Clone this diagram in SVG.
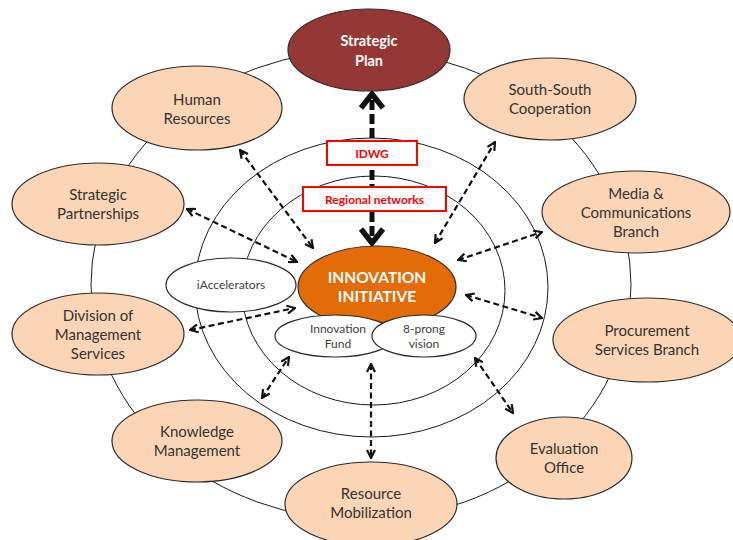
<svg xmlns="http://www.w3.org/2000/svg" width="733" height="540" viewBox="0 0 733 540">
<style>
.ring{fill:none;stroke:#1a1a1a;stroke-width:1}
.node{fill:#FBD5B5;stroke:#2b2b2b;stroke-width:1.2}
.wnode{fill:#fff;stroke:#2b2b2b;stroke-width:1.2}
.t{font-family:Lato,"Liberation Sans",sans-serif;font-size:15px;fill:#333;text-anchor:middle}
.ts{font-family:Lato,"Liberation Sans",sans-serif;font-size:12px;fill:#404040;text-anchor:middle}
.tw{font-family:Lato,"Liberation Sans",sans-serif;font-size:14.5px;font-weight:bold;fill:#fff;text-anchor:middle}
.tr{font-family:Lato,"Liberation Sans",sans-serif;font-size:12px;font-weight:bold;fill:#FF0000;text-anchor:middle}
.box{fill:#fff;stroke:#FF0000;stroke-width:2}
.da{fill:none;stroke:#111;stroke-width:2.2;stroke-dasharray:6,3.5;marker-start:url(#ah);marker-end:url(#ah)}
</style>
<defs>
<marker id="ah" viewBox="0 0 10 10" refX="9" refY="5" markerWidth="10" markerHeight="10" markerUnits="userSpaceOnUse" orient="auto-start-reverse">
<path d="M1,1 L9,5 L1,9" fill="none" stroke="#111" stroke-width="2.2"/>
</marker>
</defs>
<ellipse class="ring" cx="361" cy="285" rx="270" ry="235"/>
<ellipse class="ring" cx="371.5" cy="287.5" rx="176.5" ry="149.5"/>
<ellipse class="ring" cx="373.5" cy="290.5" rx="131.5" ry="114.5"/>
<g id="connectors">
<line x1="372" y1="100" x2="372" y2="240" stroke="#111" stroke-width="5" stroke-dasharray="10,4"/>
<polyline points="361,108 372,94 383,108" fill="none" stroke="#111" stroke-width="5.5"/>
<polyline points="361,229 372,243 383,229" fill="none" stroke="#111" stroke-width="5.5"/>
<line class="da" x1="240" y1="150" x2="313" y2="248"/>
<line class="da" x1="187" y1="209" x2="297" y2="262"/>
<line class="da" x1="190" y1="330" x2="295" y2="308"/>
<line class="da" x1="262" y1="398" x2="289" y2="357"/>
<line class="da" x1="371" y1="364" x2="371" y2="458"/>
<line class="da" x1="475" y1="358" x2="513" y2="413"/>
<line class="da" x1="466" y1="295" x2="542" y2="318"/>
<line class="da" x1="458" y1="260" x2="542" y2="232"/>
<line class="da" x1="435" y1="243" x2="495" y2="142"/>
</g>
<g id="idwg"><rect class="box" x="327" y="141" width="90" height="24"/><text class="tr" x="372" y="157.5">IDWG</text></g>
<g id="regional"><rect class="box" x="303" y="187" width="143" height="24"/><text class="tr" x="374.5" y="203.5">Regional networks</text></g>
<g id="strategic-plan"><ellipse cx="369" cy="50" rx="81" ry="41" fill="#953735" stroke="#2b2b2b" stroke-width="1.2"/><text class="tw" x="369" y="46">Strategic</text><text class="tw" x="369" y="66">Plan</text></g>
<g id="human"><ellipse class="node" cx="197" cy="108" rx="85" ry="42"/><text class="t" x="197" y="105">Human</text><text class="t" x="197" y="124">Resources</text></g>
<g id="south"><ellipse class="node" cx="550" cy="99" rx="86" ry="41"/><text class="t" x="550" y="95">South-South</text><text class="t" x="550" y="114">Cooperation</text></g>
<g id="partnerships"><ellipse class="node" cx="98" cy="204" rx="86" ry="41"/><text class="t" x="98" y="200">Strategic</text><text class="t" x="98" y="219">Partnerships</text></g>
<g id="media"><ellipse class="node" cx="636" cy="212" rx="94" ry="41"/><text class="t" x="636" y="199">Media &amp;</text><text class="t" x="636" y="218">Communications</text><text class="t" x="636" y="237">Branch</text></g>
<g id="division"><ellipse class="node" cx="98" cy="334" rx="86" ry="41"/><text class="t" x="98" y="321">Division of</text><text class="t" x="98" y="340">Management</text><text class="t" x="98" y="359">Services</text></g>
<g id="procurement"><ellipse class="node" cx="647" cy="340" rx="94" ry="42"/><text class="t" x="647" y="336">Procurement</text><text class="t" x="647" y="355">Services Branch</text></g>
<g id="knowledge"><ellipse class="node" cx="197" cy="441" rx="85" ry="41"/><text class="t" x="197" y="437">Knowledge</text><text class="t" x="197" y="456">Management</text></g>
<g id="evaluation"><ellipse class="node" cx="564" cy="458" rx="68" ry="41"/><text class="t" x="564" y="454">Evaluation</text><text class="t" x="564" y="473">Office</text></g>
<g id="resource"><ellipse class="node" cx="371" cy="504" rx="86" ry="42"/><text class="t" x="371" y="499">Resource</text><text class="t" x="371" y="518">Mobilization</text></g>
<g id="iaccelerators"><ellipse class="wnode" cx="231" cy="285" rx="65" ry="27"/><text class="ts" x="231" y="289">iAccelerators</text></g>
<g id="innovation"><ellipse cx="377" cy="287" rx="79" ry="41" fill="#E36C09" stroke="#2b2b2b" stroke-width="1.2"/><text class="tw" x="377" y="283" style="font-size:15.5px">INNOVATION</text><text class="tw" x="377" y="302" style="font-size:15.5px">INITIATIVE</text></g>
<g id="fund"><ellipse class="wnode" cx="335" cy="336" rx="60" ry="21"/><text class="ts" x="338" y="333">Innovation</text><text class="ts" x="338" y="348">Fund</text></g>
<g id="prong"><ellipse class="wnode" cx="424" cy="336" rx="52" ry="21"/><text class="ts" x="424" y="333">8-prong</text><text class="ts" x="424" y="348">vision</text></g>
</svg>
